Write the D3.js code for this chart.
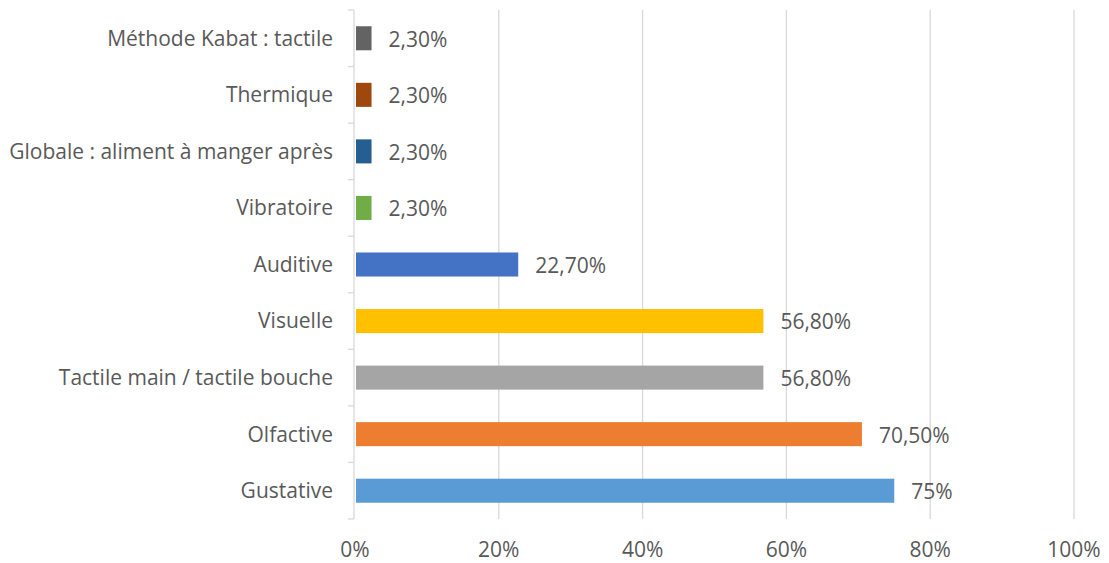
<!DOCTYPE html>
<html>
<head>
<meta charset="utf-8">
<script src="https://cdn.jsdelivr.net/npm/d3@7"></script>
<style>
  body { margin: 0; background: #fff; }
  text { font-family: "Open Sans", "Noto Sans", sans-serif; fill: #595959; }
</style>
</head>
<body>
<div id="chart"></div>
<script>
// categories top to bottom
var categories = [
  "Méthode Kabat : tactile",
  "Thermique",
  "Globale : aliment à manger après",
  "Vibratoire",
  "Auditive",
  "Visuelle",
  "Tactile main / tactile bouche",
  "Olfactive",
  "Gustative"
];
var values = [2.3, 2.3, 2.3, 2.3, 22.7, 56.8, 56.8, 70.5, 75];
var valueLabels = ["2,30%", "2,30%", "2,30%", "2,30%", "22,70%", "56,80%", "56,80%", "70,50%", "75%"];
var colors = ["#636363", "#9e480e", "#255e91", "#70ad47", "#4472c4", "#ffc000", "#a5a5a5", "#ed7d31", "#5b9bd5"];
var xTicks = [0, 20, 40, 60, 80, 100];

var data = categories.map(function(c, i) {
  return { cat: c, v: values[i], label: valueLabels[i], color: colors[i] };
});

var W = 1109, H = 563;
var margin = { top: 10, right: 35, bottom: 44, left: 355 };
var width = W - margin.left - margin.right,
    height = H - margin.top - margin.bottom;
var fs = "21px";

var svg = d3.select("#chart").append("svg")
  .attr("width", W).attr("height", H)
  .append("g")
  .attr("transform", "translate(" + margin.left + "," + margin.top + ")");

var x = d3.scaleLinear().domain([0, 100]).range([0, 719]);
var y = d3.scaleBand().domain(categories).range([0, height])
  .paddingInner(0.575).paddingOuter(0.2875);

// gridlines
svg.selectAll(".grid").data(xTicks.slice(1)).enter().append("line")
  .attr("x1", function(d) { return x(d); })
  .attr("x2", function(d) { return x(d); })
  .attr("y1", 0).attr("y2", height)
  .attr("stroke", "#d9d9d9").attr("stroke-width", 1.3);

// x axis labels
svg.selectAll(".xl").data(xTicks).enter().append("text")
  .attr("x", function(d) { return x(d); })
  .attr("y", height + 38)
  .attr("text-anchor", "middle")
  .style("font-size", fs)
  .text(function(d) { return d + "%"; });

// left axis with band ticks
var step = y.step();
var bounds = d3.range(categories.length + 1).map(function(i) { return i * step; });
svg.append("line")
  .attr("x1", -1).attr("x2", -1).attr("y1", 0).attr("y2", height)
  .attr("stroke", "#d9d9d9").attr("stroke-width", 1.3);
svg.selectAll(".tk").data(bounds).enter().append("line")
  .attr("x1", -7).attr("x2", -1)
  .attr("y1", function(d) { return d; }).attr("y2", function(d) { return d; })
  .attr("stroke", "#d9d9d9").attr("stroke-width", 1.3);

// category labels
svg.selectAll(".cl").data(data).enter().append("text")
  .attr("x", -22)
  .attr("y", function(d) { return y(d.cat) + y.bandwidth() / 2; })
  .attr("dy", "0.35em")
  .attr("text-anchor", "end")
  .style("font-size", fs)
  .text(function(d) { return d.cat; });

// bars
svg.selectAll(".bar").data(data).enter().append("rect")
  .attr("x", 1)
  .attr("y", function(d) { return y(d.cat); })
  .attr("width", function(d) { return x(d.v) - 1; })
  .attr("height", y.bandwidth())
  .attr("fill", function(d) { return d.color; });

// value labels
svg.selectAll(".vl").data(data).enter().append("text")
  .attr("x", function(d) { return x(d.v) + 17; })
  .attr("y", function(d) { return y(d.cat) + y.bandwidth() / 2 + 1; })
  .attr("dy", "0.35em")
  .style("font-size", fs)
  .text(function(d) { return d.label; });
</script>
</body>
</html>
